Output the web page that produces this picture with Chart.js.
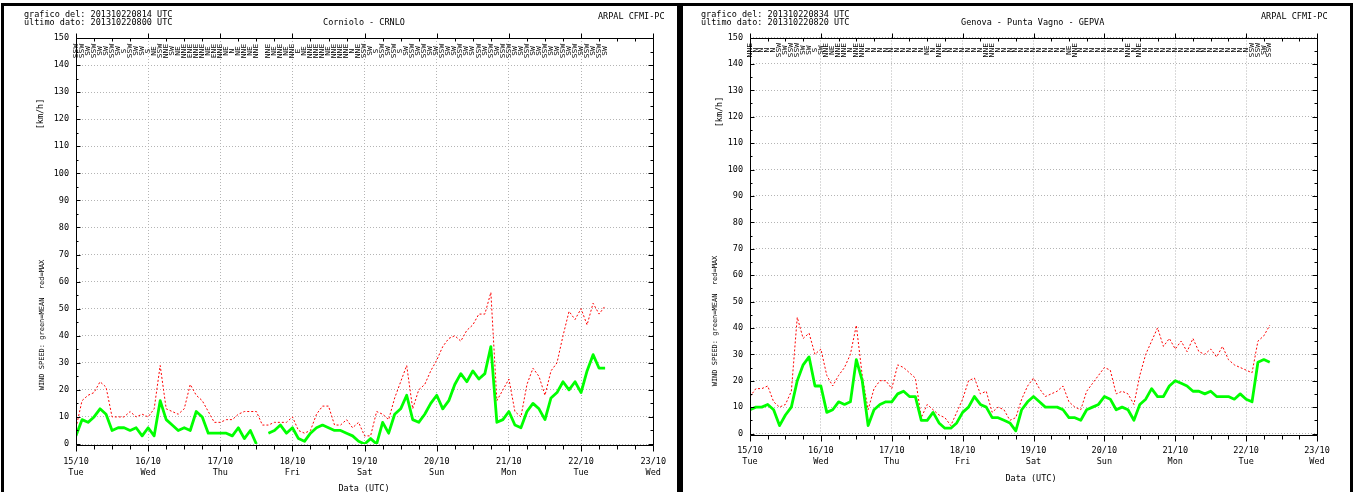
<!DOCTYPE html>
<html>
<head>
<meta charset="utf-8">
<title>Wind speed - CRNLO / GEPVA</title>
<script src="https://cdn.jsdelivr.net/npm/chart.js@4.4.0/dist/chart.umd.min.js"></script>
<style>
  html, body { margin: 0; padding: 0; background: #fff; width: 1353px; height: 492px; overflow: hidden; }
  canvas { position: absolute; top: 0; }
  .panel { position: absolute; top: 3px; height: 520px; border: 3px solid #000; border-bottom: none; box-sizing: border-box; pointer-events: none; }
  .txt { position: absolute; font-family: "DejaVu Sans Mono", monospace; font-size: 8.5px; line-height: 8px; white-space: pre; color: #000; }
  .small { font-size: 7px; }
  .ctr { transform: translateX(-50%); }
  .rot { transform: translate(-50%, -50%) rotate(-90deg); }
</style>
</head>
<body>
<canvas id="chartCRNLO" width="678" height="492" style="left:0px"></canvas>
<canvas id="chartGEPVA" width="672" height="492" style="left:681px"></canvas>

<div class="panel" style="left:1px; width:679px;"></div>
<div class="panel" style="left:680px; width:673px;"></div>

<!-- Corniolo panel texts -->
<div class="txt" style="left:24px; top:10px;">grafico del: 201310220814 UTC</div>
<div class="txt" style="left:24px; top:17.5px;">ultimo dato: 201310220800 UTC</div>
<div class="txt ctr" style="left:364px; top:17.5px;">Corniolo - CRNLO</div>
<div class="txt" style="left:598px; top:11.5px;">ARPAL CFMI-PC</div>
<div class="txt rot" style="left:39.5px; top:114px;">[km/h]</div>
<div class="txt small rot" style="left:41.5px; top:325px;">WIND SPEED: green=MEAN  red=MAX</div>
<div class="txt ctr" style="left:364px; top:484px;">Data (UTC)</div>

<!-- Genova panel texts -->
<div class="txt" style="left:701px; top:10px;">grafico del: 201310220834 UTC</div>
<div class="txt" style="left:701px; top:17.5px;">ultimo dato: 201310220820 UTC</div>
<div class="txt ctr" style="left:1032.7px; top:17.5px;">Genova - Punta Vagno - GEPVA</div>
<div class="txt" style="left:1261px; top:11.5px;">ARPAL CFMI-PC</div>
<div class="txt rot" style="left:719px; top:112px;">[km/h]</div>
<div class="txt small rot" style="left:715px; top:321px;">WIND SPEED: green=MEAN  red=MAX</div>
<div class="txt ctr" style="left:1031px; top:474px;">Data (UTC)</div>

<script>
// Hours since 15/10 00:00 UTC, one sample every two hours
const hours = [0,2,4,6,8,10,12,14,16,18,20,22,
  24,26,28,30,32,34,36,38,40,42,44,46,
  48,50,52,54,56,58,60,62,64,66,68,70,
  72,74,76,78,80,82,84,86,88,90,92,94,
  96,98,100,102,104,106,108,110,112,114,116,118,
  120,122,124,126,128,130,132,134,136,138,140,142,
  144,146,148,150,152,154,156,158,160,162,164,166,
  168,170,172,174,176];

// Day ticks (every 24 h)
const tickDates = ['15/10','16/10','17/10','18/10','19/10','20/10','21/10','22/10','23/10'];
const tickDays  = ['Tue','Wed','Thu','Fri','Sat','Sun','Mon','Tue','Wed'];

// Corniolo - CRNLO, km/h
const meanCRNLO = [3,9,8,10,13,11,5,6,6,5,6,3,
  6,3,16,9,7,5,6,5,12,10,4,4,
  4,4,3,6,2,5,0,null,4,5,7,4,
  6,2,1,4,6,7,6,5,5,4,3,1,
  0,2,0,8,4,11,13,18,9,8,11,15,
  18,13,16,22,26,23,27,24,26,36,8,9,
  12,7,6,12,15,13,9,17,19,23,20,23,
  19,27,33,28,28];
const maxCRNLO = [6,16,18,19,23,21,10,10,10,12,10,11,
  10,13,29,13,12,11,13,22,18,16,12,8,
  8,9,9,11,12,12,12,7,7,8,8,8,
  10,5,4,5,11,14,14,7,7,9,6,8,
  3,3,12,11,9,17,23,29,13,20,22,27,
  31,36,39,40,38,42,44,48,48,56,16,20,
  24,12,10,22,28,25,18,27,30,40,49,46,
  50,44,52,48,51];
const dirCRNLO = ['SSW','SSW','SW','SSW','SW','SW','SSW','SW','S','SSW','SW','SW',
  'S','NE','SSW','NNE','SW','NE','NNE','ENE','NNE','NNE','NE','ENE',
  'NNE','NE','N','NE','NNE','NE','NNE','','NNE','NE','NNE','NE',
  'NNE','E','NE','NNE','NNE','NNE','NE','NNE','NNE','NNE','N','NNE',
  'SSW','SW','S','SSW','SW','SSW','S','SW','SSW','SW','SSW','SW',
  'SW','SSW','SW','SW','SSW','SW','SW','SSW','SW','SSW','SW','SSW',
  'SSW','SW','SW','SSW','SW','SW','SSW','SW','SW','SSW','SW','SSW',
  'SW','SSW','SW','SSW','SW'];

// Genova - Punta Vagno - GEPVA, km/h
const meanGEPVA = [9,10,10,11,9,3,7,10,20,26,29,18,
  18,8,9,12,11,12,28,20,3,9,11,12,
  12,15,16,14,14,5,5,8,4,2,2,4,
  8,10,14,11,10,6,6,5,4,1,9,12,
  14,12,10,10,10,9,6,6,5,9,10,11,
  14,13,9,10,9,5,11,13,17,14,14,18,
  20,19,18,16,16,15,16,14,14,14,13,15,
  13,12,27,28,27];
const maxGEPVA = [14,17,17,18,12,10,11,16,44,36,38,30,
  32,22,18,22,25,30,41,22,9,17,20,20,
  17,26,25,23,21,6,11,9,7,6,3,8,
  13,20,21,15,16,8,10,9,5,6,13,18,
  21,17,14,15,16,18,12,10,9,16,19,22,
  25,24,15,16,15,11,22,30,35,40,33,36,
  32,35,31,36,31,30,32,29,33,28,26,25,
  24,23,35,37,41];
const dirGEPVA = ['NNE','N','N','N','N','SSW','SW','SSW','SSW','SW','SW','S',
  'SW','NNE','NE','NNE','NNE','N','NNE','NNE','N','N','N','N',
  'N','N','N','N','N','N','NE','N','NNE','N','N','N',
  'N','N','N','N','NNE','NNE','N','N','N','N','N','N',
  'N','N','N','N','N','N','NE','NNE','N','N','N','N',
  'N','N','N','N','NNE','N','NNE','N','N','N','N','N',
  'N','N','N','N','N','N','N','N','N','N','N','N',
  'N','SSW','SSW','SW','SSW'];

const FONT = '"DejaVu Sans Mono", monospace';
Chart.defaults.font.family = FONT;
Chart.defaults.color = '#000';

// Black frame round the plot area with 6-hourly and 5 km/h tick marks
const frameTicks = {
  id: 'frameTicks',
  afterDraw(chart) {
    const { ctx, chartArea: a, scales: { x, y } } = chart;
    const L = Math.round(a.left) + 0.5, R = Math.round(a.right) + 0.5;
    const T = Math.round(a.top) + 0.5, B = Math.round(a.bottom) + 1.5;
    ctx.save();
    ctx.strokeStyle = '#000';
    ctx.lineWidth = 1;
    ctx.beginPath();
    ctx.moveTo(L, T); ctx.lineTo(R, T);
    ctx.moveTo(L, B); ctx.lineTo(R, B);
    ctx.moveTo(L, T); ctx.lineTo(L, B);
    ctx.moveTo(R, T); ctx.lineTo(R, B);
    for (let h = x.min; h <= x.max; h += 6) {
      const px = Math.round(x.getPixelForValue(h)) + 0.5;
      const major = h % 24 === 0;
      ctx.moveTo(px, B); ctx.lineTo(px, B + (major ? 6 : 4));
      if (major) { ctx.moveTo(px, T); ctx.lineTo(px, T - 5); }
      else { ctx.moveTo(px, T); ctx.lineTo(px, T + 3); }
    }
    for (let v = y.min; v <= y.max; v += 5) {
      const py = Math.round(y.getPixelForValue(v)) + 0.5;
      const major = v % 10 === 0;
      ctx.moveTo(L, py); ctx.lineTo(L + (major ? 4 : 2), py);
      ctx.moveTo(R, py); ctx.lineTo(R - (major ? 5 : 3), py);
    }
    ctx.stroke();
    ctx.restore();
  }
};

// Wind direction written vertically (narrow lettering) along the top of the plot
function directionRow(labels, level) {
  return {
    id: 'directionRow',
    afterDatasetsDraw(chart) {
      const { ctx, scales: { x, y } } = chart;
      ctx.save();
      ctx.font = '8px ' + FONT;
      ctx.fillStyle = '#000';
      ctx.textAlign = 'center';
      ctx.textBaseline = 'middle';
      labels.forEach((d, i) => {
        if (!d) return;
        ctx.save();
        ctx.translate(x.getPixelForValue(hours[i]), y.getPixelForValue(level));
        ctx.rotate(-Math.PI / 2);
        ctx.scale(1, 0.8);
        ctx.fillText(d, 0, 0);
        ctx.restore();
      });
      ctx.restore();
    }
  };
}

function makeChart(id, mean, max, dirs, pad) {
  return new Chart(document.getElementById(id), {
    type: 'line',
    data: {
      datasets: [
        {
          label: 'MEAN',
          data: hours.map((h, i) => ({ x: h, y: mean[i] })),
          borderColor: '#00ff00',
          borderWidth: 2.8,
          borderJoinStyle: 'round',
          pointRadius: 0,
          tension: 0,
          spanGaps: false
        },
        {
          label: 'MAX',
          data: hours.map((h, i) => ({ x: h, y: max[i] })),
          borderColor: '#ff0000',
          borderWidth: 1,
          borderDash: [2, 2],
          pointRadius: 0,
          tension: 0,
          spanGaps: false
        }
      ]
    },
    options: {
      responsive: false,
      animation: false,
      devicePixelRatio: 1,
      layout: { padding: pad },
      plugins: { legend: { display: false }, tooltip: { enabled: false } },
      scales: {
        x: {
          type: 'linear',
          min: 0,
          max: 192,
          afterFit(s) { s.height = 40; },
          ticks: {
            stepSize: 24,
            autoSkip: false,
            maxRotation: 0,
            padding: 12,
            font: { size: 8.5, lineHeight: 1.28 },
            callback: (v) => { const i = Math.round(v / 24); return [tickDates[i], tickDays[i]]; }
          },
          grid: { color: '#b4b4b4', drawTicks: false },
          border: { display: false, dash: [1, 2] }
        },
        y: {
          min: 0,
          max: 150,
          afterFit(s) { s.width = 40; },
          ticks: { stepSize: 10, padding: 7, font: { size: 8.5 } },
          grid: { color: '#b4b4b4', drawTicks: false },
          border: { display: false, dash: [1, 2] }
        }
      }
    },
    plugins: [frameTicks, directionRow(dirs, 145.2)]
  });
}

makeChart('chartCRNLO', meanCRNLO, maxCRNLO, dirCRNLO, { left: 36, right: 23, top: 38, bottom: 8 });
makeChart('chartGEPVA', meanGEPVA, maxGEPVA, dirGEPVA, { left: 29, right: 36, top: 37.5, bottom: 18.5 });
</script>
</body>
</html>
